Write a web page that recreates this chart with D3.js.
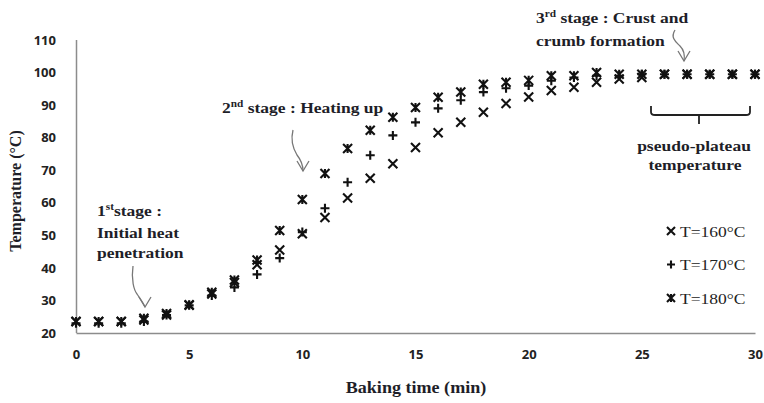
<!DOCTYPE html>
<html><head><meta charset="utf-8">
<script src="https://cdn.jsdelivr.net/npm/d3@7"></script>
<style>body{margin:0;background:#fff}svg{display:block}</style>
</head><body>
<svg id="c" width="764" height="403"></svg>
<script>
const times = d3.range(0, 31);
const xTicks = [0, 5, 10, 15, 20, 25, 30];
const yTicks = [20, 30, 40, 50, 60, 70, 80, 90, 100, 110];
const t160 = [23.5,23.5,23.5,24,25.5,28.5,32,35.5,41,45.5,50.5,55.5,61.5,67.5,72,77,81.5,84.7,87.8,90.5,92.5,94.5,95.5,97,98,98.5,99.5,99.5,99.5,99.5,99.5];
const t170 = [23,23,23,23.5,25.5,28.5,31.5,34,38,43,51,58.3,66.3,74.6,80.7,84.7,89,91.5,94,95.2,96,97.5,98.5,99,99,99.5,99.5,99.5,99.5,99.5,99.5];
const t180 = [23.5,23.5,23.5,24.5,26,28.7,32.5,36.3,42.4,51.5,61,69,76.7,82.3,86.3,89.3,92.4,94,96.4,97,97.6,99,99,100,99.5,99.5,99.5,99.5,99.5,99.5,99.5];
const seriesNames = ["T=160°C", "T=170°C", "T=180°C"];
const seriesShapes = ["x", "plus", "star"];
const seriesData = [t160, t170, t180];

const svg = d3.select("#c");
const x = d3.scaleLinear().domain([0, 30]).range([76, 755]);
const y = d3.scaleLinear().domain([20, 110]).range([333, 40]);
const axisColor = "#8c8c8c";
const textColor = "#1e1e28";
const STRETCH = 1.13;

// axes
const xa = svg.append("g").attr("transform", "translate(0,333)")
  .call(d3.axisBottom(x).tickValues(xTicks).tickSize(0).tickPadding(17).tickFormat(d3.format("d")));
const ya = svg.append("g").attr("transform", "translate(76,0)")
  .call(d3.axisLeft(y).tickValues(yTicks).tickSize(0).tickPadding(20).tickFormat(d3.format("d")));
[xa, ya].forEach(a => {
  a.select(".domain").attr("stroke", axisColor).attr("stroke-width", 1.5);
  a.selectAll("text").attr("font-family", "'Open Sans', 'Liberation Sans', sans-serif")
    .attr("font-weight", "bold").attr("font-size", 13).attr("fill", "#222");
});
ya.select(".domain").attr("d", "M0.5," + y(110) + "V333");

// stretched text helper
function stext(parent, xp, yp, anchor) {
  return parent.append("text").attr("transform", `translate(${xp},${yp}) scale(${STRETCH},1)`)
    .attr("text-anchor", anchor || "start");
}

stext(svg, 416, 393, "middle")
  .attr("font-family", "'Liberation Serif', serif").attr("font-weight", "bold").attr("font-size", 16)
  .attr("fill", textColor).text("Baking time (min)");
svg.append("text").attr("transform", "translate(21,191) rotate(-90)").attr("text-anchor", "middle")
  .attr("font-family", "'Liberation Serif', serif").attr("font-weight", "bold").attr("font-size", 16)
  .attr("fill", textColor).text("Temperature (°C)");

// markers
function marker(g, shape, s) {
  const p = [];
  if (shape === "x" || shape === "star") p.push(`M${-s},${-s}L${s},${s}M${-s},${s}L${s},${-s}`);
  if (shape === "plus") p.push(`M${-s},0L${s},0M0,${-s}L0,${s}`);
  if (shape === "star") p.push(`M0,${-s}L0,${s}`);
  g.append("path").attr("d", p.join("")).attr("stroke", "#111").attr("stroke-width", 2.1).attr("fill", "none");
}
seriesData.forEach((vals, i) => {
  const g = svg.append("g");
  vals.forEach((v, j) => {
    const mg = g.append("g").attr("transform", `translate(${x(times[j])},${y(v)})`);
    marker(mg, seriesShapes[i], 4.5);
  });
});

// legend
seriesNames.forEach((n, i) => {
  const ly = 231 + i * 33.5;
  const mg = svg.append("g").attr("transform", `translate(671,${ly})`);
  marker(mg, seriesShapes[i], 4);
  stext(svg, 680, ly + 5.5).attr("font-family", "'Liberation Serif', serif")
    .attr("font-size", 15.5).attr("fill", "#222").text(n);
});

// annotations
const ann = svg.append("g").attr("font-family", "'Liberation Serif', serif").attr("font-weight", "bold")
  .attr("font-size", 15.5).attr("fill", textColor);
function supText(xp, yp, main, sup, rest) {
  const t = stext(ann, xp, yp);
  t.append("tspan").text(main);
  t.append("tspan").attr("font-size", 10).attr("dy", -6).text(sup);
  t.append("tspan").attr("dy", 6).text(rest);
}
supText(97, 216, "1", "st", "stage :");
stext(ann, 97, 238).text("Initial heat");
stext(ann, 97, 258).text("penetration");
supText(222, 113, "2", "nd", " stage : Heating up");
supText(536, 23, "3", "rd", " stage : Crust and");
stext(ann, 536, 46).text("crumb formation");
stext(ann, 694, 151, "middle").text("pseudo-plateau");
stext(ann, 695, 170, "middle").text("temperature");

// arrows
const arrowStroke = "#777";
function arrow(d, tip) {
  svg.append("path").attr("d", d).attr("fill", "none").attr("stroke", arrowStroke).attr("stroke-width", 1.3);
  svg.append("path").attr("d", `M${tip[0]-6},${tip[1]-10}L${tip[0]},${tip[1]}L${tip[0]+6},${tip[1]-10}`)
    .attr("fill", "none").attr("stroke", arrowStroke).attr("stroke-width", 1.3);
}
arrow("M133,266 C131,280 134,290 137,294 C141,300 144,304 145,307", [145, 307]);
arrow("M293,130 C290,142 294,150 297,155 C301,160 303,165 303,171", [303, 171]);
arrow("M675,30 C670,38 676,42 680,46 C684,50 685,55 684,61", [684, 61]);

// bracket
svg.append("path").attr("d", "M651,106 V112 Q651,115 655,115 H746 Q750,115 750,112 V106 M699,115 V124")
  .attr("fill", "none").attr("stroke", "#222").attr("stroke-width", 1.8);
</script>
</body></html>
